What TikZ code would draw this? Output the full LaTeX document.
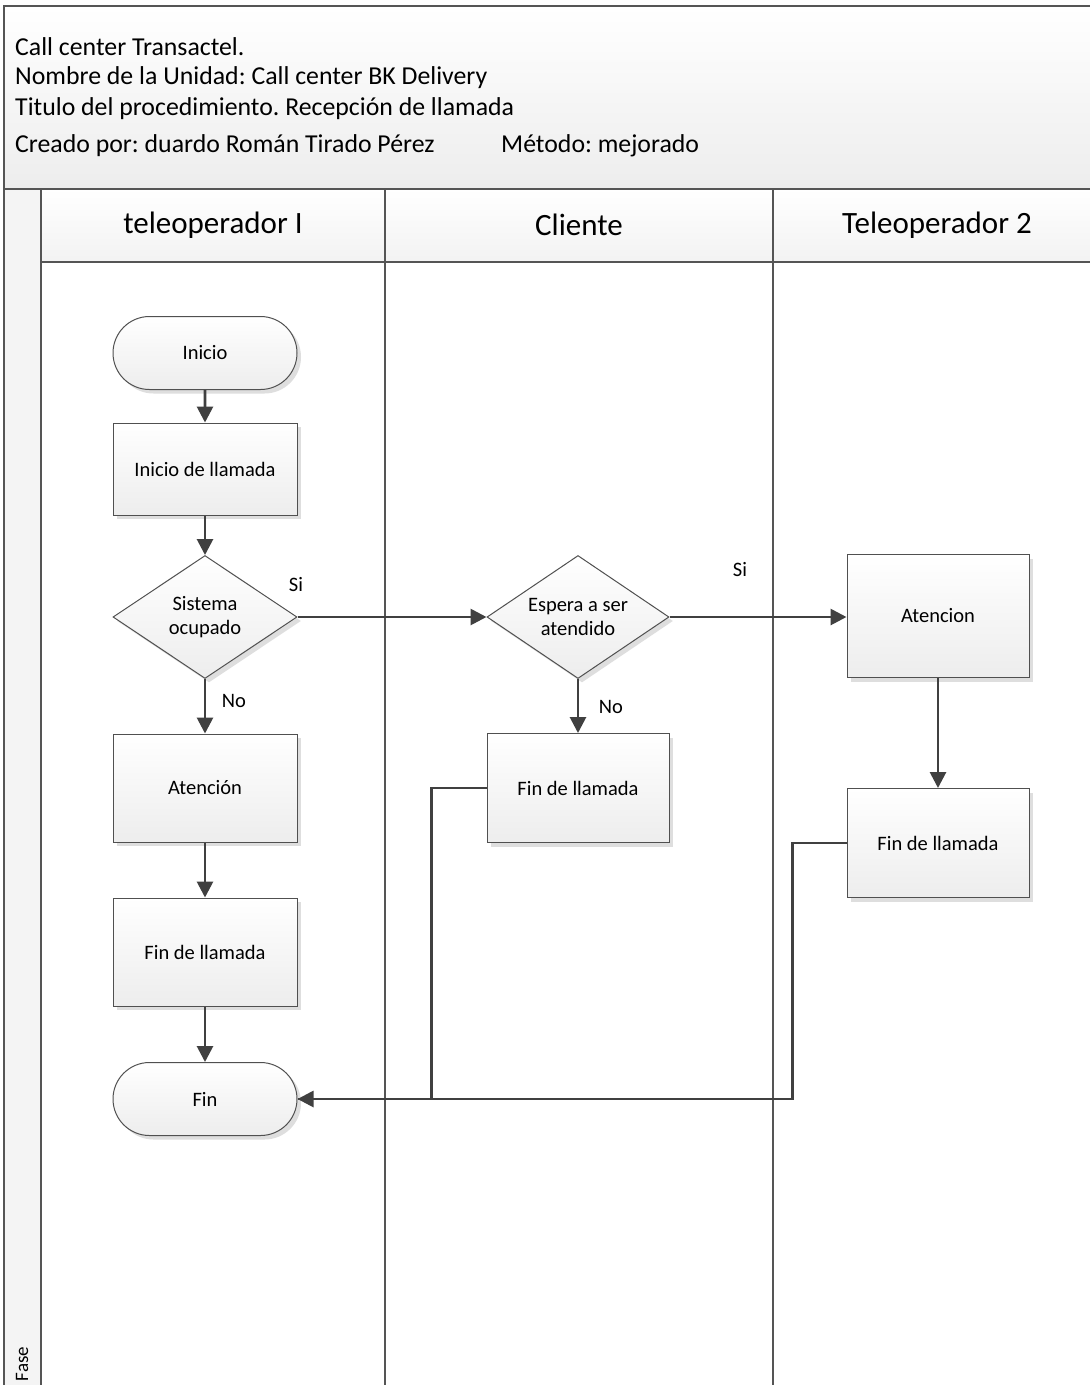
\documentclass[tikz,border=0pt]{standalone}
\usepackage{fontspec}
\setmainfont{Carlito}
\usetikzlibrary{arrows.meta,shapes.geometric,shapes.misc,shadows}
\frenchspacing
\definecolor{linegray}{HTML}{404040}
\definecolor{framegray}{HTML}{555555}
\definecolor{shapeborder}{HTML}{505050}
\definecolor{shadegray}{HTML}{EDEDED}
\tikzset{
  x=1pt, y=-1pt,
  frame/.style={draw=framegray, line width=2pt},
  boxshadow/.style={drop shadow={shadow xshift=4pt, shadow yshift=-4pt, fill=black!13, opacity=1}},
  flowbase/.style={draw=shapeborder, line width=1pt, top color=white, bottom color=shadegray,
    font=\fontsize{20.5}{24}\selectfont, align=center, boxshadow},
  process/.style={flowbase, rectangle, minimum width=184pt, inner sep=0pt},
  terminal/.style={flowbase, rounded rectangle, minimum width=184pt, minimum height=73pt, inner sep=0pt},
  decision/.style={flowbase, diamond, aspect=1.6, inner sep=0pt, minimum width=184pt, minimum height=123pt},
  conn/.style={draw=linegray, line width=2.8pt, -{Triangle[length=16pt,width=16pt]}},
  plainconn/.style={draw=linegray, line width=2.8pt},
  lbl/.style={font=\fontsize{20.5}{24}\selectfont, inner sep=0pt},
  headtext/.style={font=\fontsize{25.8}{30}\selectfont, anchor=west, inner sep=0pt},
  lanetitle/.style={font=\fontsize{31}{36}\selectfont, inner sep=0pt}
}
\begin{document}
\begin{tikzpicture}
\useasboundingbox (0,0) rectangle (1090,1385);
\fill[white] (0,0) rectangle (1090,1385);

% header block and lane title row
\shade[top color=white, bottom color=shadegray] (4,6) rectangle (1092,189);
\shade[top color=white, bottom color=shadegray!70] (41,189) rectangle (1092,262);
\fill[gray!9] (4,189) rectangle (41,1387);

% frame and lane separators
\draw[frame] (1092,6) -- (4,6) -- (4,1387);
\draw[frame] (4,189) -- (1092,189);
\draw[frame] (41,262) -- (1092,262);
\draw[frame] (41,189) -- (41,1387);
\draw[frame] (385,189) -- (385,1387);
\draw[frame] (773,189) -- (773,1387);

% header texts
\node[headtext] (h1) at (15,47) {Call center Transactel.};
\node[headtext] (h2) at (15,78) {Nombre de la Unidad: Call center BK Delivery};
\node[headtext] (h3) at (15,109) {Titulo del procedimiento. Recepción de llamada};
\node[headtext] (h4) at (15,146) {Creado por: duardo Román Tirado Pérez};
\node[headtext] (h5) at (501,146) {Método: mejorado};

% lane titles
\node[lanetitle] (lane1) at (213,225) {teleoperador I};
\node[lanetitle] (lane2) at (579,225) {Cliente};
\node[lanetitle] (lane3) at (937,225) {Teleoperador 2};
\node[font=\fontsize{19}{22}\selectfont, rotate=90, inner sep=0pt] (fase) at (22,1364) {Fase};

% flow shapes
\node[terminal] (inicio) at (205,353) {Inicio};
\node[process, minimum height=92pt] (inill) at (205,469) {Inicio de llamada};
\node[decision] (sis) at (205,617) {Sistema\\ocupado};
\node[process, minimum height=108pt] (aten) at (205,788) {Atención};
\node[process, minimum height=108pt] (fin1) at (205,952) {Fin de llamada};
\node[terminal] (fin) at (205,1099) {Fin};

\node[decision, minimum width=182pt] (esp) at (578,617) {Espera a ser\\atendido};
\node[process, minimum width=182pt, minimum height=109pt] (fin2) at (578,788) {Fin de llamada};

\node[process, minimum width=182pt, minimum height=123pt] (aten2) at (938,616) {Atencion};
\node[process, minimum width=182pt, minimum height=109pt] (fin3) at (938,843) {Fin de llamada};

% connectors
\draw[conn] (inicio) -- (inill);
\draw[conn] (inill) -- (sis);
\draw[conn] (sis.east) -- (esp.west);
\draw[conn] (sis.south) -- (aten.north);
\draw[conn] (aten) -- (fin1);
\draw[conn] (fin1) -- (fin);
\draw[conn] (esp.east) -- (aten2.west |- esp.east);
\draw[conn] (esp.south) -- (fin2.north);
\draw[conn] (aten2) -- (fin3);
\draw[conn] (fin2.west) -- ++(-55,0) |- (fin.east);
\draw[plainconn] (fin3.west) -- ++(-54,0) |- (fin.east);

% branch labels
\node[lbl] (si1) at (296,585) {Si};
\node[lbl] (no1) at (234,701) {No};
\node[lbl] (si2) at (740,570) {Si};
\node[lbl] (no2) at (611,707) {No};
\end{tikzpicture}
\end{document}
